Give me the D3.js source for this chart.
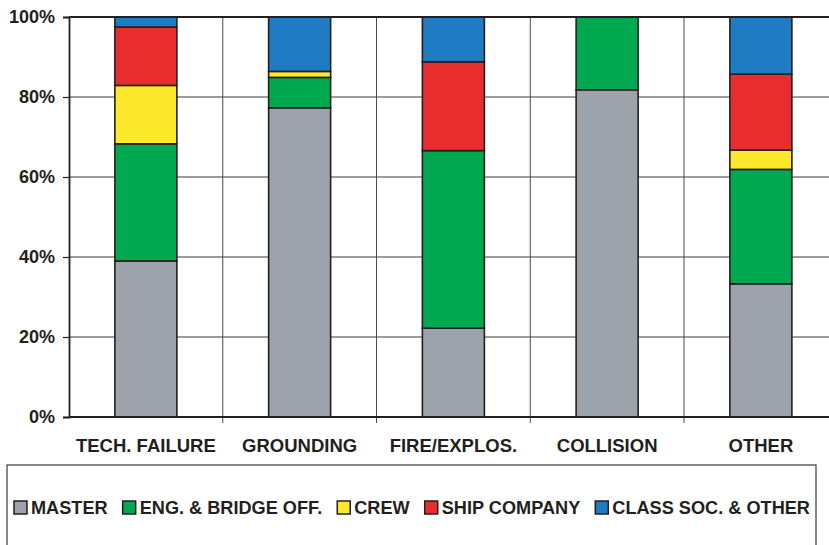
<!DOCTYPE html>
<html>
<head>
<meta charset="utf-8">
<script src="https://cdn.jsdelivr.net/npm/d3@7"></script>
<style>
  html, body { margin: 0; padding: 0; background: #fff; }
  svg { display: block; }
  text { font-family: "Liberation Sans", Arial, Helvetica, sans-serif; font-weight: bold; fill: #231f20; }
</style>
</head>
<body>
<svg id="chart" width="829" height="545"></svg>
<script>
// Accident categories along the x axis
const categories = ["TECH. FAILURE", "GROUNDING", "FIRE/EXPLOS.", "COLLISION", "OTHER"];

// Responsible party (stack order, bottom to top)
const series = ["MASTER", "ENG. & BRIDGE OFF.", "CREW", "SHIP COMPANY", "CLASS SOC. & OTHER"];

// Share of each party per category, in percent
const master      = [39.0, 77.3, 22.2, 81.8, 33.3];
const engBridge   = [29.3,  7.6, 44.4, 18.2, 28.6];
const crew        = [14.6,  1.5,  0.0,  0.0,  4.8];
const shipCompany = [14.6,  0.0, 22.2,  0.0, 19.0];
const classSoc    = [ 2.5, 13.6, 11.2,  0.0, 14.3];

const yTicks = [0, 20, 40, 60, 80, 100];
const colors = ["#9ca3aa", "#00a94f", "#fce92b", "#e92d2f", "#1f7bc2"];

const seriesValues = [master, engBridge, crew, shipCompany, classSoc];
const rows = categories.map((c, i) => {
  const r = { category: c };
  series.forEach((s, j) => { r[s] = seriesValues[j][i]; });
  return r;
});

const svg = d3.select("#chart");
const plot = { left: 69, top: 17, right: 837.75, bottom: 417 };

const x = d3.scaleBand().domain(categories).range([plot.left, plot.right]).paddingInner(0).paddingOuter(0);
const y = d3.scaleLinear().domain([0, 100]).range([plot.bottom, plot.top]);
const barW = 62;

const grid = svg.append("g");
// horizontal gridlines
grid.selectAll("line.h").data(yTicks.filter(t => t > 0 && t < 100)).join("line")
  .attr("x1", plot.left).attr("x2", plot.right)
  .attr("y1", d => y(d)).attr("y2", d => y(d))
  .attr("stroke", "#3a3a3a").attr("stroke-width", 1);
// vertical category separators, continuing below the axis as ticks
grid.selectAll("line.v").data(categories.slice(1)).join("line")
  .attr("x1", d => x(d)).attr("x2", d => x(d))
  .attr("y1", plot.top).attr("y2", plot.bottom + 6)
  .attr("stroke", "#4a4a4a").attr("stroke-width", 1);

// stacked bars
const stack = d3.stack().keys(series)(rows);
const layers = svg.append("g").selectAll("g").data(stack).join("g")
  .attr("fill", (d, i) => colors[i]);
layers.selectAll("rect")
  .data(d => d.filter(p => p[1] - p[0] > 0).map(p => ({ p, cat: p.data.category })))
  .join("rect")
  .attr("x", d => x(d.cat) + (x.bandwidth() - barW) / 2)
  .attr("width", barW)
  .attr("y", d => y(d.p[1]))
  .attr("height", d => y(d.p[0]) - y(d.p[1]))
  .attr("stroke", "#231f20").attr("stroke-width", 1.6);

// frame: top line and bottom axis
svg.append("line").attr("x1", plot.left).attr("x2", plot.right)
  .attr("y1", plot.top).attr("y2", plot.top).attr("stroke", "#231f20").attr("stroke-width", 1.8);
svg.append("line").attr("x1", plot.left).attr("x2", plot.right)
  .attr("y1", plot.bottom).attr("y2", plot.bottom).attr("stroke", "#231f20").attr("stroke-width", 1.8);

// y axis
const yAxis = d3.axisLeft(y).tickValues(yTicks).tickFormat(d => d + "%").tickSize(6).tickPadding(8);
const ya = svg.append("g").attr("transform", `translate(${plot.left},0)`).call(yAxis);
ya.select(".domain").attr("stroke", "#231f20").attr("stroke-width", 1.8);
ya.selectAll(".tick line").attr("stroke", "#231f20").attr("stroke-width", 1.2);
ya.selectAll(".tick text").attr("font-size", 18).attr("fill", "#231f20")
  .attr("font-family", "Liberation Sans, Arial, sans-serif").attr("font-weight", "bold");

// x axis labels
const xAxis = d3.axisBottom(x).tickSize(0).tickPadding(21.5);
const xa = svg.append("g").attr("transform", `translate(0,${plot.bottom})`).call(xAxis);
xa.select(".domain").remove();
xa.selectAll(".tick text").attr("font-size", 18.5).attr("fill", "#231f20")
  .attr("font-family", "Liberation Sans, Arial, sans-serif").attr("font-weight", "bold");

// legend box
svg.append("rect").attr("x", 7).attr("y", 465).attr("width", 809).attr("height", 120)
  .attr("fill", "none").attr("stroke", "#3a3a3a").attr("stroke-width", 1.2);

// legend items laid out left to right
const lg = svg.append("g");
const sw = 13, swGap = 4, itemGap = 15, startX = 14, endX = 810, baseY = 514;
const texts = series.map(s => lg.append("text").attr("font-size", 19).attr("y", baseY).text(s));
const widths = texts.map(t => t.node().getComputedTextLength());
const avail = (endX - startX) - series.length * (sw + swGap) - (series.length - 1) * itemGap;
const k = avail / d3.sum(widths);
let cx = startX;
series.forEach((s, i) => {
  lg.append("rect").attr("x", cx).attr("y", baseY - sw).attr("width", sw).attr("height", sw)
    .attr("fill", colors[i]).attr("stroke", "#231f20").attr("stroke-width", 1.5);
  const tx = cx + sw + swGap;
  texts[i].attr("transform", `translate(${tx},0) scale(${k},1)`);
  cx = tx + widths[i] * k + itemGap;
});
</script>
</body>
</html>
